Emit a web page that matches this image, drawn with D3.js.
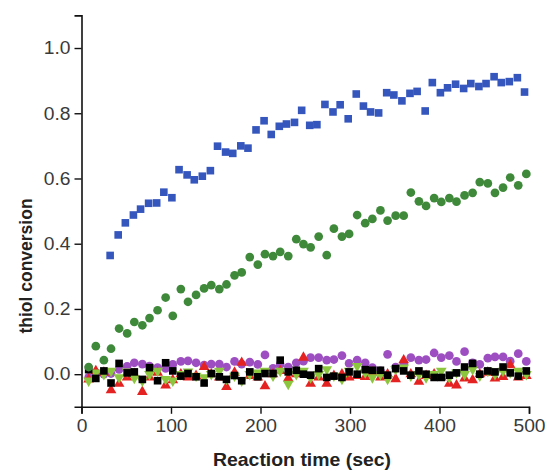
<!DOCTYPE html>
<html lang="en">
<head>
<meta charset="utf-8">
<script src="https://d3js.org/d3.v7.min.js"></script>
<style>
  body { margin: 0; background: #fff; }
  text { font-family: "Liberation Sans", Arial, sans-serif; }
</style>
</head>
<body>
<script>
// Sampling times (sec) for the blue series (starts later)
var timesBlue = [32, 41, 49, 58, 66, 75, 84, 92, 101, 109, 118, 126, 135, 144, 152, 161, 169, 178, 186, 195,
  204, 212, 221, 229, 238, 246, 255, 263, 272, 281, 289, 298, 307, 315, 323, 332, 341, 349, 358, 367,
  375, 384, 392, 401, 409, 418, 427, 435, 444, 452, 461, 469, 478, 487, 495];
// Sampling times (sec) shared by the other series
var times = [8, 16, 25, 33, 42, 51, 59, 68, 76, 85, 94, 102, 111, 119, 128, 137, 145, 154, 162, 171,
  179, 188, 197, 205, 214, 222, 231, 240, 248, 256, 265, 274, 282, 291, 299, 308, 317, 325, 334, 342,
  351, 360, 368, 377, 385, 394, 402, 411, 419, 428, 437, 445, 454, 462, 471, 479, 488, 497];

var blueSquares = [0.364, 0.427, 0.464, 0.488, 0.506, 0.524, 0.525, 0.558, 0.541, 0.627,
  0.611, 0.596, 0.607, 0.624, 0.699, 0.681, 0.677, 0.700, 0.693, 0.749,
  0.777, 0.735, 0.760, 0.767, 0.772, 0.809, 0.763, 0.765, 0.827, 0.804,
  0.826, 0.783, 0.859, 0.822, 0.804, 0.801, 0.863, 0.856, 0.838, 0.861,
  0.867, 0.807, 0.894, 0.863, 0.878, 0.889, 0.876, 0.891, 0.882, 0.891,
  0.912, 0.894, 0.897, 0.909, 0.865];

var greenCircles = [0.022, 0.086, 0.043, 0.078, 0.140, 0.125, 0.160, 0.150, 0.172, 0.196,
  0.235, 0.179, 0.261, 0.222, 0.243, 0.263, 0.273, 0.261, 0.275, 0.303,
  0.312, 0.359, 0.336, 0.368, 0.362, 0.375, 0.362, 0.414, 0.399, 0.389,
  0.422, 0.365, 0.446, 0.422, 0.430, 0.488, 0.463, 0.476, 0.502, 0.471,
  0.486, 0.486, 0.557, 0.530, 0.516, 0.540, 0.528, 0.540, 0.529, 0.548,
  0.556, 0.589, 0.585, 0.556, 0.572, 0.603, 0.579, 0.614];

var purpleCircles = [-0.010, 0.005, 0.000, 0.002, 0.015, 0.024, 0.035, 0.031, 0.025, 0.020,
  0.018, 0.030, 0.039, 0.041, 0.035, 0.028, 0.031, 0.031, 0.022, 0.039,
  0.031, 0.037, 0.030, 0.059, 0.018, 0.030, 0.022, 0.035, 0.040, 0.051,
  0.051, 0.043, 0.045, 0.057, 0.033, 0.043, 0.035, 0.020, 0.010, 0.061,
  0.022, 0.030, 0.051, 0.043, 0.045, 0.065, 0.051, 0.057, 0.039, 0.069,
  0.035, 0.030, 0.049, 0.053, 0.053, 0.040, 0.063, 0.039];

var redTriangles = [-0.016, 0.010, 0.005, -0.049, -0.029, -0.010, 0.000, -0.054, -0.010, 0.005,
  -0.034, -0.018, 0.000, -0.010, -0.005, 0.022, 0.000, -0.010, -0.039, 0.005,
  0.035, -0.005, -0.010, -0.037, 0.000, 0.010, -0.013, 0.000, 0.051, -0.029,
  -0.010, -0.029, -0.005, 0.000, -0.010, -0.005, -0.008, 0.005, -0.010, 0.000,
  -0.015, 0.043, 0.000, -0.023, -0.005, 0.000, -0.010, -0.029, -0.034, -0.013,
  -0.018, 0.000, 0.005, -0.013, -0.008, 0.028, -0.010, -0.005];

var limeTriangles = [-0.020, 0.005, 0.000, 0.010, -0.010, 0.008, -0.012, -0.020, 0.000, 0.010,
  -0.015, -0.020, 0.000, 0.008, -0.005, -0.010, 0.000, 0.010, -0.015, -0.005,
  -0.020, 0.000, 0.005, 0.010, -0.005, 0.010, -0.030, 0.000, 0.010, -0.010,
  0.000, 0.015, -0.005, -0.015, 0.010, 0.025, 0.005, -0.010, 0.000, -0.015,
  0.015, 0.020, -0.005, 0.000, -0.010, 0.000, 0.010, -0.010, 0.005, 0.000,
  0.015, -0.005, 0.010, 0.000, 0.010, 0.005, 0.010, 0.000];

var blackSquares = [0.014, -0.013, 0.010, -0.027, 0.033, 0.004, 0.007, -0.016, 0.020, -0.020,
  0.035, 0.010, -0.006, 0.002, -0.008, -0.027, 0.002, -0.008, -0.016, -0.004,
  -0.020, 0.007, -0.008, 0.002, 0.002, 0.043, 0.007, 0.012, 0.000, -0.003,
  0.017, -0.010, -0.006, -0.010, 0.007, 0.000, 0.014, 0.012, 0.012, -0.003,
  0.017, 0.010, -0.003, 0.010, 0.000, -0.010, -0.010, -0.003, 0.004, 0.022,
  0.033, 0.000, 0.010, 0.007, 0.022, 0.004, -0.006, 0.010];

var xTicks = [0, 100, 200, 300, 400, 500];
var yTicks = [0.0, 0.2, 0.4, 0.6, 0.8, 1.0];

var w = 547, h = 471;

var x = d3.scaleLinear().domain([0, 500]).range([81.5, 529]);
var y = d3.scaleLinear().domain([-0.1, 1.1]).range([406.8, 15.4]);

var svg = d3.select("body").append("svg")
  .attr("width", w)
  .attr("height", h);

// Axes: major ticks with labels, minor ticks without
var xAxis = svg.append("g").attr("transform", "translate(0," + y(-0.1) + ")");
xAxis.call(d3.axisBottom(x).tickValues(d3.range(50, 500, 100)).tickSize(4).tickFormat(""));
xAxis.call(d3.axisBottom(x).tickValues(xTicks).tickSize(7).tickPadding(5).tickFormat(d3.format("d")));

var yAxis = svg.append("g").attr("transform", "translate(" + x(0) + ",0)");
yAxis.call(d3.axisLeft(y).tickValues([-0.1, 0.1, 0.3, 0.5, 0.7, 0.9, 1.1]).tickSize(4).tickFormat(""));
yAxis.call(d3.axisLeft(y).tickValues(yTicks).tickSize(7).tickPadding(4).tickFormat(d3.format(".1f")));

svg.selectAll(".domain").attr("stroke", "#111").attr("stroke-width", 1.6);
svg.selectAll(".tick line").attr("stroke", "#111").attr("stroke-width", 1.4);
svg.selectAll(".tick text").attr("font-size", 18).attr("fill", "#3a3a3a")
  .attr("font-family", "Liberation Sans, Arial, sans-serif");

// the original picture is a little wider than tall, so stretch the labels a bit
xAxis.selectAll(".tick text").attr("transform", "scale(1.07,1)");
yAxis.selectAll(".tick text").attr("transform", "translate(-11,0) scale(1.07,1) translate(11,0)");

// Axis titles
svg.append("text")
  .attr("transform", "translate(302,466) scale(1.08,1)")
  .attr("text-anchor", "middle")
  .attr("font-size", 18).attr("font-weight", "bold").attr("fill", "#222")
  .text("Reaction time (sec)");

svg.append("text")
  .attr("transform", "translate(32,266) rotate(-90)")
  .attr("text-anchor", "middle")
  .attr("font-size", 17.5).attr("font-weight", "bold").attr("fill", "#222")
  .text("thiol conversion");

// Marker helpers
var sq = d3.symbol().type(d3.symbolSquare).size(58);
var circ = d3.symbol().type(d3.symbolCircle).size(60);
var tri = d3.symbol().type(d3.symbolTriangle).size(50);

function series(ts, vals, sym, color, rot) {
  svg.append("g").selectAll("path")
    .data(vals.map(function(v, i) { return [ts[i], v]; }))
    .enter().append("path")
    .attr("d", sym)
    .attr("fill", color)
    .attr("transform", function(d) {
      return "translate(" + x(d[0]) + "," + y(d[1]) + ")" + (rot ? " rotate(" + rot + ")" : "");
    });
}

series(times, purpleCircles, circ, "#9d4fc2");
series(times, redTriangles, tri, "#e52222");
series(times, limeTriangles, tri, "#8cc63e", 180);
series(times, blackSquares, sq, "#000000");
series(times, greenCircles, circ, "#3f8a3a");
series(timesBlue, blueSquares, sq, "#3556bd");
</script>
</body>
</html>
